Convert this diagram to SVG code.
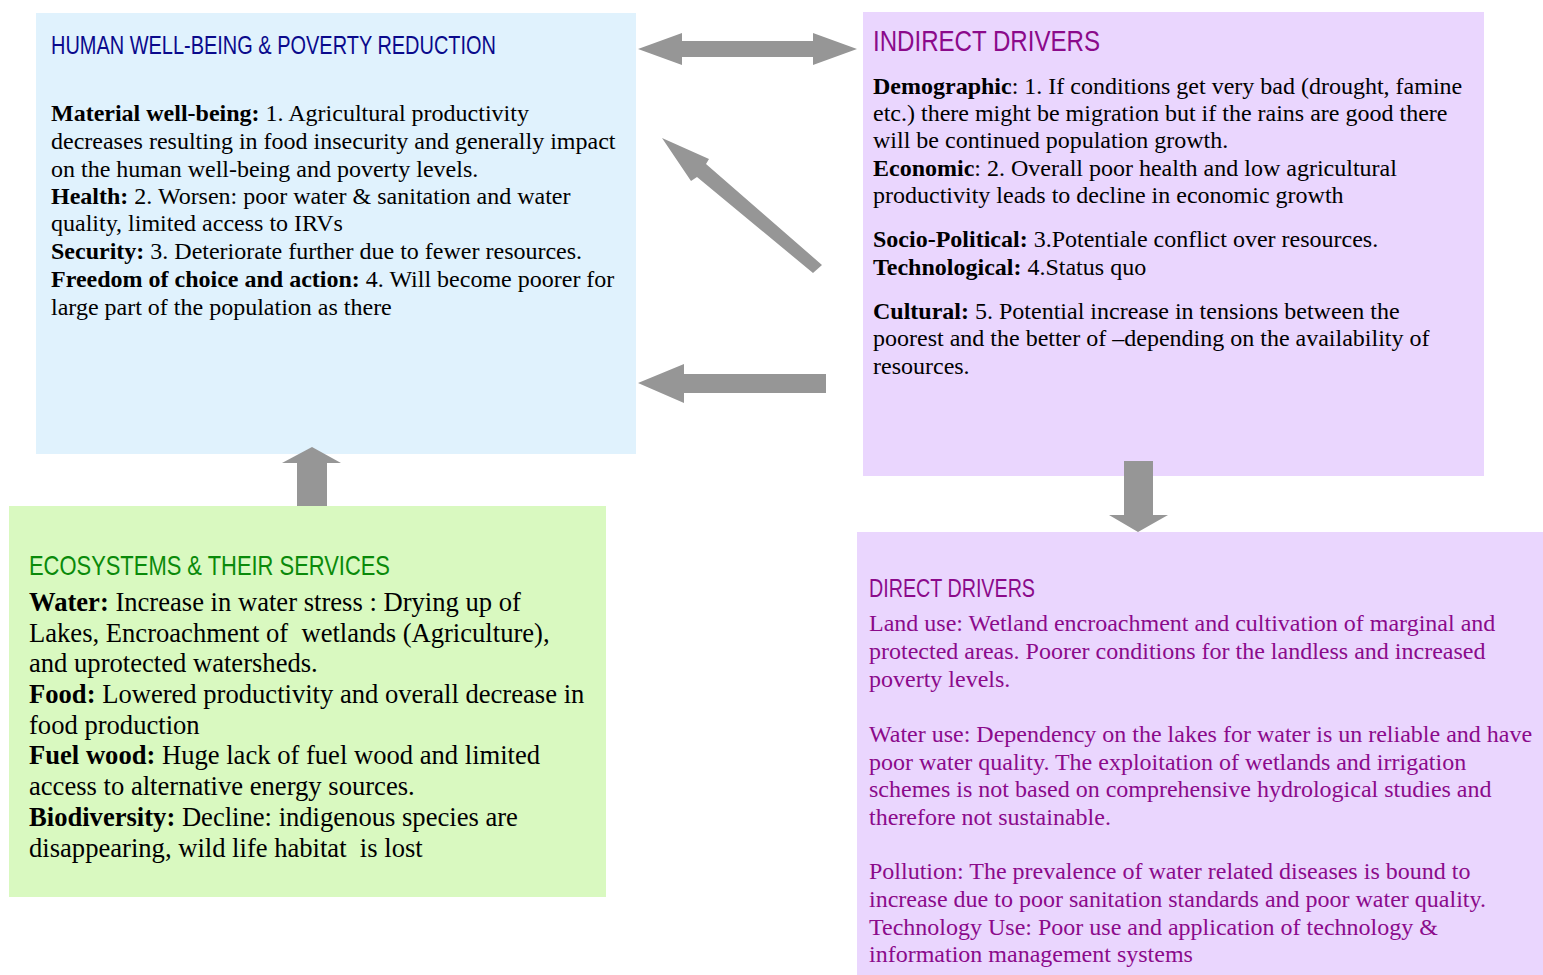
<svg xmlns="http://www.w3.org/2000/svg" width="1543" height="975" viewBox="0 0 1543 975">
<style>
.body{font-family:"Liberation Serif","Times New Roman",serif;font-size:24px;fill:#000}
.big{font-size:26.6px}
.b{font-weight:bold}
.head{font-family:"Liberation Sans Narrow","Liberation Sans",Arial,sans-serif}
.purple{fill:#8b0a8b}
.arrow{fill:#969696}
</style>
<rect width="1543" height="975" fill="#fff"/>
<g id="human-wellbeing">
<rect x="36" y="13" width="600" height="441" fill="#e0f2fd"/>
<text class="head" x="51" y="54" font-size="25" fill="#0a0a8c" textLength="445" lengthAdjust="spacingAndGlyphs">HUMAN WELL-BEING &amp; POVERTY REDUCTION</text>
<text class="body" x="51" y="121"><tspan class="b">Material well-being:</tspan> 1. Agricultural productivity</text>
<text class="body" x="51" y="149">decreases resulting in food insecurity and generally impact</text>
<text class="body" x="51" y="177">on the human well-being and poverty levels.</text>
<text class="body" x="51" y="204"><tspan class="b">Health:</tspan> 2. Worsen: poor water &amp; sanitation and water</text>
<text class="body" x="51" y="231">quality, limited access to IRVs</text>
<text class="body" x="51" y="259"><tspan class="b">Security:</tspan> 3. Deteriorate further due to fewer resources.</text>
<text class="body" x="51" y="287"><tspan class="b">Freedom of choice and action:</tspan> 4. Will become poorer for</text>
<text class="body" x="51" y="315">large part of the population as there</text>
</g>
<g id="indirect-drivers">
<rect x="863" y="12" width="621" height="464" fill="#ead6fe"/>
<text class="head" x="873" y="51" font-size="30" fill="#8b0a8b" textLength="227" lengthAdjust="spacingAndGlyphs">INDIRECT DRIVERS</text>
<text class="body" x="873" y="94"><tspan class="b">Demographic</tspan>: 1. If conditions get very bad (drought, famine</text>
<text class="body" x="873" y="121">etc.) there might be migration but if the rains are good there</text>
<text class="body" x="873" y="148">will be continued population growth.</text>
<text class="body" x="873" y="176"><tspan class="b">Economic</tspan>: 2. Overall poor health and low agricultural</text>
<text class="body" x="873" y="203">productivity leads to decline in economic growth</text>
<text class="body" x="873" y="247"><tspan class="b">Socio-Political:</tspan> 3.Potentiale conflict over resources.</text>
<text class="body" x="873" y="275"><tspan class="b">Technological:</tspan> 4.Status quo</text>
<text class="body" x="873" y="319"><tspan class="b">Cultural:</tspan> 5. Potential increase in tensions between the</text>
<text class="body" x="873" y="346">poorest and the better of –depending on the availability of</text>
<text class="body" x="873" y="374">resources.</text>
</g>
<g id="ecosystems">
<rect x="9" y="506" width="597" height="391" fill="#d9f9c0"/>
<text class="head" x="29" y="575" font-size="28" fill="#0a8a0a" textLength="361" lengthAdjust="spacingAndGlyphs">ECOSYSTEMS &amp; THEIR SERVICES</text>
<text class="body big" x="29" y="611"><tspan class="b">Water:</tspan> Increase in water stress : Drying up of</text>
<text class="body big" x="29" y="642" xml:space="preserve">Lakes, Encroachment of  wetlands (Agriculture),</text>
<text class="body big" x="29" y="672">and uprotected watersheds.</text>
<text class="body big" x="29" y="703"><tspan class="b">Food:</tspan> Lowered productivity and overall decrease in</text>
<text class="body big" x="29" y="734">food production</text>
<text class="body big" x="29" y="764"><tspan class="b">Fuel wood:</tspan> Huge lack of fuel wood and limited</text>
<text class="body big" x="29" y="795">access to alternative energy sources.</text>
<text class="body big" x="29" y="826"><tspan class="b">Biodiversity:</tspan> Decline: indigenous species are</text>
<text class="body big" x="29" y="857" xml:space="preserve">disappearing, wild life habitat  is lost</text>
</g>
<g id="direct-drivers">
<rect x="857" y="532" width="686" height="443" fill="#ead6fe"/>
<text class="head" x="869" y="597" font-size="25" fill="#8b0a8b" textLength="166" lengthAdjust="spacingAndGlyphs">DIRECT DRIVERS</text>
<text class="body purple" x="869" y="631">Land use: Wetland encroachment and cultivation of marginal and</text>
<text class="body purple" x="869" y="659">protected areas. Poorer conditions for the landless and increased</text>
<text class="body purple" x="869" y="687">poverty levels.</text>
<text class="body purple" x="869" y="742">Water use: Dependency on the lakes for water is un reliable and have</text>
<text class="body purple" x="869" y="770">poor water quality. The exploitation of wetlands and irrigation</text>
<text class="body purple" x="869" y="797">schemes is not based on comprehensive hydrological studies and</text>
<text class="body purple" x="869" y="825">therefore not sustainable.</text>
<text class="body purple" x="869" y="879">Pollution: The prevalence of water related diseases is bound to</text>
<text class="body purple" x="869" y="907">increase due to poor sanitation standards and poor water quality.</text>
<text class="body purple" x="869" y="935">Technology Use: Poor use and application of technology &amp;</text>
<text class="body purple" x="869" y="962">information management systems</text>
</g>
<g id="connectors">
<polygon class="arrow" points="638,49 682,33 682,41 813,41 813,33 857,49 813,65 813,57 682,57 682,65"/>
<polygon class="arrow" points="662,138 709,159 706,164 822,265 813,273 697,177 691,181"/>
<polygon class="arrow" points="638,383 684,364 684,374 826,374 826,393 684,393 684,403"/>
<polygon class="arrow" points="312,447 341,463 327,463 327,506 297,506 297,463 282,463"/>
<polygon class="arrow" points="1124,461 1153,461 1153,515 1168,515 1138,532 1109,515 1124,515"/>
</g>
</svg>
